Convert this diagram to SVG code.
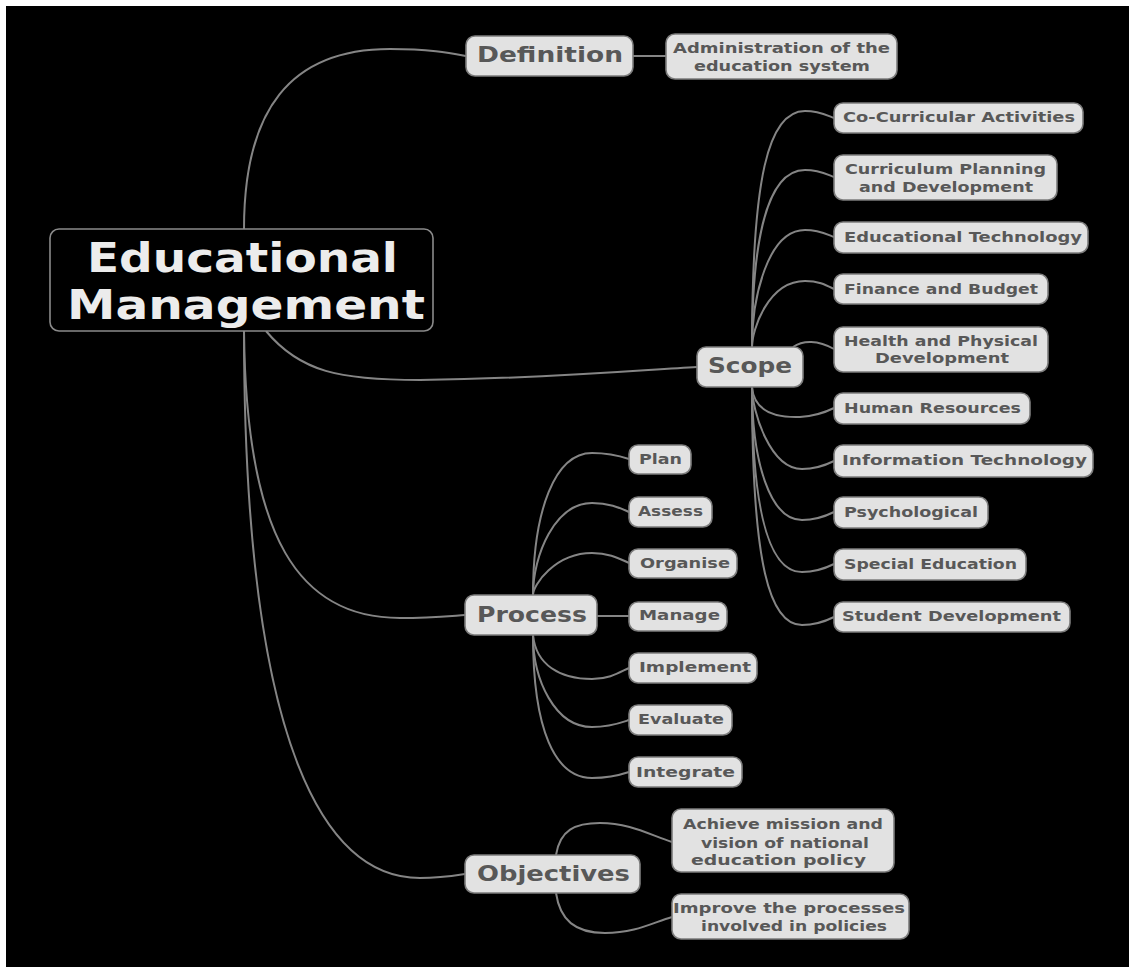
<svg xmlns="http://www.w3.org/2000/svg" width="1129" height="967" viewBox="0 0 1129 967">
<style>
.bg{fill:#000}
.n{fill:#e2e2e2;stroke:#7c7c7c;stroke-width:1.6}
.root{fill:#000;stroke:#8a8a8a;stroke-width:1.6}
.t{font-family:"DejaVu Sans","Liberation Sans",sans-serif;font-weight:bold;fill:#585858}
.l1{font-size:21px}
.lf{font-size:14.5px}
.rt{font-family:"DejaVu Sans","Liberation Sans",sans-serif;font-weight:bold;fill:#ececec;font-size:40px}
.c{fill:none;stroke:#858585;stroke-width:2}
</style>
<rect x="0" y="0" width="1129" height="967" fill="#fff"/>
<rect class="bg" x="6" y="6" width="1123" height="961"/>
<g id="connectors">
<path class="c" d="M244,229 C244,110 290,49 390,49 C430,49 450,53 466,56"/>
<path class="c" d="M633,56 L666,56"/>
<path class="c" d="M266,331 C300,372 340,380 420,380 C560,378 640,370 697,367"/>
<path class="c" d="M244,331 C246,540 300,618 400,618 C430,618 450,616 465,615"/>
<path class="c" d="M244,331 C244,760 330,878 420,878 C440,878 452,876 465,874"/>
<path class="c" d="M752,347 C752,178 768,111 805,111 C819,111 826,115 834,118"/>
<path class="c" d="M752,347 C752,237 768,170 805,170 C819,170 826,174 834,177"/>
<path class="c" d="M752,347 C752,297 768,230 805,230 C819,230 826,234 834,237"/>
<path class="c" d="M752,347 C752,330 768,281 805,281 C819,281 826,285 834,289"/>
<path class="c" d="M793,347 C803,340 818,340 834,349"/>
<path class="c" d="M752,387 C754,410 772,418 800,417 C815,416 826,412 834,408"/>
<path class="c" d="M752,387 C752,411 770,469 802,469 C817,469 826,465 834,461"/>
<path class="c" d="M752,387 C752,462 770,520 802,520 C817,520 826,516 834,512"/>
<path class="c" d="M752,387 C752,514 770,572 802,572 C817,572 826,568 834,564"/>
<path class="c" d="M752,387 C752,567 770,625 802,625 C817,625 826,621 834,617"/>
<path class="c" d="M533,595 C533,510 555,453 592,453 C610,453 620,456 629,459"/>
<path class="c" d="M533,595 C533,555 555,503 592,503 C610,503 620,508 629,512"/>
<path class="c" d="M533,595 C533,585 555,553 592,553 C610,553 620,559 629,563"/>
<path class="c" d="M597,616 L629,616"/>
<path class="c" d="M533,635 C536,665 560,679 592,679 C610,679 620,672 629,668"/>
<path class="c" d="M533,635 C533,680 555,727 592,727 C610,727 620,723 629,720"/>
<path class="c" d="M533,635 C533,730 555,778 592,778 C610,778 620,775 629,772"/>
<path class="c" d="M556,855 C560,830 575,823 600,823 C630,823 650,835 672,842"/>
<path class="c" d="M556,893 C560,920 575,933 605,933 C635,933 652,923 672,917"/>
</g>
<g id="root">
<rect class="root" x="50" y="229" width="383" height="102" rx="9"/>
<text class="rt" x="87" y="272" textLength="311" lengthAdjust="spacingAndGlyphs">Educational</text>
<text class="rt" x="67" y="319" textLength="358" lengthAdjust="spacingAndGlyphs">Management</text>
</g>
<g id="definition">
<rect class="n" x="466" y="36" width="167" height="40" rx="9"/>
<text class="t l1" x="477" y="62" textLength="146" lengthAdjust="spacingAndGlyphs">Definition</text>
</g>
<g id="administration">
<rect class="n" x="666" y="34" width="231" height="45" rx="9"/>
<text class="t lf" x="673" y="53" textLength="217" lengthAdjust="spacingAndGlyphs">Administration of the</text>
<text class="t lf" x="694" y="71" textLength="176" lengthAdjust="spacingAndGlyphs">education system</text>
</g>
<g id="scope">
<rect class="n" x="697" y="347" width="106" height="40" rx="9"/>
<text class="t l1" x="708" y="373" textLength="84" lengthAdjust="spacingAndGlyphs">Scope</text>
</g>
<g id="cocurricular">
<rect class="n" x="834" y="103" width="249" height="30" rx="9"/>
<text class="t lf" x="843" y="122" textLength="232" lengthAdjust="spacingAndGlyphs">Co-Curricular Activities</text>
</g>
<g id="curriculum">
<rect class="n" x="834" y="155" width="223" height="45" rx="9"/>
<text class="t lf" x="845" y="174" textLength="201" lengthAdjust="spacingAndGlyphs">Curriculum Planning</text>
<text class="t lf" x="859" y="192" textLength="174" lengthAdjust="spacingAndGlyphs">and Development</text>
</g>
<g id="edtech">
<rect class="n" x="834" y="222" width="254" height="31" rx="9"/>
<text class="t lf" x="844" y="242" textLength="238" lengthAdjust="spacingAndGlyphs">Educational Technology</text>
</g>
<g id="finance">
<rect class="n" x="834" y="274" width="214" height="30" rx="9"/>
<text class="t lf" x="844" y="294" textLength="194" lengthAdjust="spacingAndGlyphs">Finance and Budget</text>
</g>
<g id="health">
<rect class="n" x="834" y="327" width="214" height="45" rx="9"/>
<text class="t lf" x="844" y="346" textLength="194" lengthAdjust="spacingAndGlyphs">Health and Physical</text>
<text class="t lf" x="875" y="363" textLength="134" lengthAdjust="spacingAndGlyphs">Development</text>
</g>
<g id="human">
<rect class="n" x="834" y="393" width="196" height="31" rx="9"/>
<text class="t lf" x="844" y="413" textLength="177" lengthAdjust="spacingAndGlyphs">Human Resources</text>
</g>
<g id="infotech">
<rect class="n" x="834" y="445" width="259" height="32" rx="9"/>
<text class="t lf" x="842" y="465" textLength="245" lengthAdjust="spacingAndGlyphs">Information Technology</text>
</g>
<g id="psych">
<rect class="n" x="834" y="497" width="154" height="31" rx="9"/>
<text class="t lf" x="844" y="517" textLength="134" lengthAdjust="spacingAndGlyphs">Psychological</text>
</g>
<g id="special">
<rect class="n" x="834" y="549" width="192" height="31" rx="9"/>
<text class="t lf" x="844" y="569" textLength="173" lengthAdjust="spacingAndGlyphs">Special Education</text>
</g>
<g id="student">
<rect class="n" x="834" y="602" width="236" height="30" rx="9"/>
<text class="t lf" x="842" y="621" textLength="219" lengthAdjust="spacingAndGlyphs">Student Development</text>
</g>
<g id="process">
<rect class="n" x="465" y="595" width="132" height="40" rx="9"/>
<text class="t l1" x="477" y="622" textLength="110" lengthAdjust="spacingAndGlyphs">Process</text>
</g>
<g id="plan">
<rect class="n" x="629" y="445" width="62" height="29" rx="9"/>
<text class="t lf" x="639" y="464" textLength="43" lengthAdjust="spacingAndGlyphs">Plan</text>
</g>
<g id="assess">
<rect class="n" x="629" y="497" width="83" height="30" rx="9"/>
<text class="t lf" x="638" y="516" textLength="65" lengthAdjust="spacingAndGlyphs">Assess</text>
</g>
<g id="organise">
<rect class="n" x="629" y="549" width="108" height="29" rx="9"/>
<text class="t lf" x="640" y="568" textLength="90" lengthAdjust="spacingAndGlyphs">Organise</text>
</g>
<g id="manage">
<rect class="n" x="629" y="602" width="98" height="29" rx="9"/>
<text class="t lf" x="639" y="620" textLength="81" lengthAdjust="spacingAndGlyphs">Manage</text>
</g>
<g id="implement">
<rect class="n" x="629" y="653" width="128" height="30" rx="9"/>
<text class="t lf" x="639" y="672" textLength="112" lengthAdjust="spacingAndGlyphs">Implement</text>
</g>
<g id="evaluate">
<rect class="n" x="629" y="705" width="103" height="30" rx="9"/>
<text class="t lf" x="638" y="724" textLength="86" lengthAdjust="spacingAndGlyphs">Evaluate</text>
</g>
<g id="integrate">
<rect class="n" x="629" y="757" width="113" height="30" rx="9"/>
<text class="t lf" x="636" y="777" textLength="99" lengthAdjust="spacingAndGlyphs">Integrate</text>
</g>
<g id="objectives">
<rect class="n" x="465" y="855" width="175" height="38" rx="9"/>
<text class="t l1" x="477" y="881" textLength="153" lengthAdjust="spacingAndGlyphs">Objectives</text>
</g>
<g id="achieve">
<rect class="n" x="672" y="809" width="222" height="63" rx="9"/>
<text class="t lf" x="683" y="829" textLength="200" lengthAdjust="spacingAndGlyphs">Achieve mission and</text>
<text class="t lf" x="701" y="848" textLength="168" lengthAdjust="spacingAndGlyphs">vision of national</text>
<text class="t lf" x="691" y="865" textLength="175" lengthAdjust="spacingAndGlyphs">education policy</text>
</g>
<g id="improve">
<rect class="n" x="672" y="894" width="237" height="45" rx="9"/>
<text class="t lf" x="673" y="913" textLength="232" lengthAdjust="spacingAndGlyphs">Improve the processes</text>
<text class="t lf" x="701" y="931" textLength="186" lengthAdjust="spacingAndGlyphs">involved in policies</text>
</g>
</svg>
